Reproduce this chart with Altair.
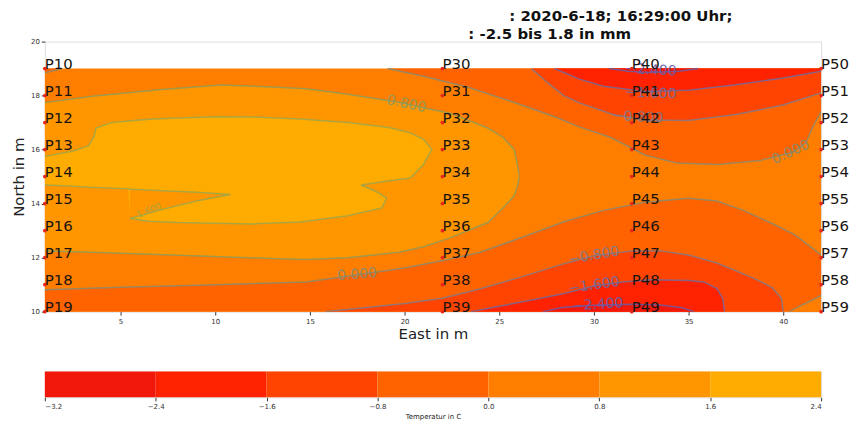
import altair as alt
import pandas as pd

# ---------------- values ----------------
TITLE_LINE1 = ": 2020-6-18; 16:29:00 Uhr;"
TITLE_LINE2 = ":  -2.5 bis 1.8 in mm"

SENSOR_GROUPS = ["1", "3", "4", "5"]
SENSOR_EAST = [1, 22, 32, 42]
SENSOR_NORTH = [19, 18, 17, 16, 15, 14, 13, 12, 11, 10]

LEVEL_EDGES = [-3.2, -2.4, -1.6, -0.8, 0.0, 0.8, 1.6, 2.4]
BAND_IDS = [0, 1, 2, 3, 4, 5, 6]
LINE_LEVELS = ["-2.4", "-1.6", "-0.8", "0.0", "0.8", "1.6"]

X_TICKS = [5, 10, 15, 20, 25, 30, 35, 40]
Y_TICKS = [10, 12, 14, 16, 18, 20]
X_DOMAIN = [1, 42]
Y_DOMAIN = [10, 20]

FIELD_EAST = [1, 42]
FIELD_NORTH = [10, 19]
FIELD_BASE_BAND = 4

# contours that meet the top edge (filled from the contour up to the top edge)
C00_TOP_X = [19.1, 21.0, 23.4, 26.0, 28.0, 29.2, 30.9, 32.7, 34.4, 36.5, 38.8, 40.5, 41.2, 41.6, 42.0]
C00_TOP_Y = [19.0, 18.72, 18.3, 17.7, 17.2, 16.85, 16.45, 15.8, 15.5, 15.45, 15.6, 15.9, 16.25, 16.9, 17.4]
C00_TL_X = [1.0, 1.5, 1.9]
C00_TL_Y = [18.85, 18.93, 19.0]
CM08_TOP_X = [26.7, 27.6, 28.4, 29.2, 31.0, 32.7, 35.0, 37.5, 40.0, 42.0]
CM08_TOP_Y = [19.0, 18.45, 18.0, 17.74, 17.3, 17.1, 17.08, 17.3, 17.65, 18.1]
CM16_TOP_X = [27.9, 28.6, 29.2, 30.5, 32.7, 35.0, 37.5, 40.0, 42.0]
CM16_TOP_Y = [19.0, 18.8, 18.62, 18.35, 18.15, 18.2, 18.4, 18.65, 18.9]
CM24_TOP_X = [30.8, 31.8, 33.0, 34.5, 35.5]
CM24_TOP_Y = [19.0, 18.9, 18.86, 18.9, 19.0]

# contours that meet the bottom edge (filled from the bottom edge up to the contour)
C00_BOT_X = [1, 5, 10, 14.8, 17.5, 20, 22.1, 24, 26, 28.5, 30.5, 32.7, 35, 36.5, 37.9, 39.3, 40.6, 42]
C00_BOT_Y = [10.81, 10.9, 11.0, 11.1, 11.37, 11.62, 11.9, 12.2, 12.7, 13.35, 13.75, 14.05, 14.2, 14.1, 13.75, 13.3, 12.85, 12.1]
C00_CORNER_X = [40.3, 41.0, 41.6, 42.0]
C00_CORNER_Y = [10.0, 10.25, 10.45, 10.6]
CM08_BOT_X = [15.8, 18, 20, 22, 24, 26, 28.3, 30, 32, 33.5, 35, 36.5, 38.4, 39.4, 39.9, 40.0]
CM08_BOT_Y = [10.0, 10.15, 10.3, 10.5, 10.85, 11.25, 11.75, 12.07, 12.25, 12.25, 12.1, 11.8, 11.25, 10.9, 10.5, 10.0]
CM16_BOT_X = [23.5, 25, 26.5, 28.3, 30, 31.5, 33, 35, 35.8, 36.5, 36.8, 36.9]
CM16_BOT_Y = [10.0, 10.2, 10.4, 10.65, 10.95, 11.1, 11.18, 11.15, 11.1, 10.85, 10.5, 10.0]
CM24_BOT_X = [27.3, 28.3, 30, 32, 33.5, 34.6, 35.3]
CM24_BOT_Y = [10.0, 10.15, 10.24, 10.27, 10.25, 10.15, 10.0]

# closed region inside the 0.8 contour
R5_X = [1, 3.5, 7, 10.3, 13, 14.8, 17, 19.7, 21, 22.4, 24.4, 25.2, 25.8, 26.0, 26.05]
R5_LO = [12.25, 12.2, 12.12, 12.03, 11.97, 11.93, 12.0, 12.2, 12.4, 12.73, 13.3, 13.84, 14.3, 14.75, 15.0]
R5_HI = [17.74, 17.98, 18.22, 18.39, 18.32, 18.25, 18.05, 17.75, 17.55, 17.35, 16.8, 16.45, 16.0, 15.3, 15.05]

# region inside the 1.6 contour
R6_X = [1, 2.5, 3.3, 3.6, 3.7, 4.5, 5.4, 5.5, 6.5, 8, 10, 12, 14.5, 17, 18.8, 19.05, 19.3, 20.3, 21.0, 21.45]
R6_LO = [14.69, 14.64, 14.61, 14.6, 14.6, 14.57, 14.55, 13.45, 13.35, 13.3, 13.27, 13.25, 13.32, 13.55, 13.84, 14.2, 14.75, 14.95, 15.45, 16.0]
R6_HI = [15.75, 15.95, 16.14, 16.5, 16.8, 17.0, 17.06, 17.07, 17.12, 17.17, 17.22, 17.21, 17.13, 17.0, 16.86, 16.83, 16.8, 16.62, 16.38, 16.0]

# 0.8..1.6 wedge cutting into the 1.6 region from the left
WEDGE_X = [5.5, 7, 9, 10.8]
WEDGE_LO = [13.45, 13.75, 14.1, 14.34]
WEDGE_HI = [14.53, 14.49, 14.42, 14.34]

# 0.8..1.6 notch cutting into the 1.6 region from the right
NOTCH_X = [17.7, 18.5, 19.05, 19.3, 20.3]
NOTCH_LO = [14.69, 14.45, 14.2, 14.75, 14.95]
NOTCH_HI = [14.69, 14.77, 14.84, 14.86, 14.95]

# contour labels
CLAB_TEXT = ["0.800", "\u22120.800", "\u22121.600", "\u22122.400", "0.000",
             "0.000", "\u22120.800", "\u22121.600", "\u22122.400"]
CLAB_X = [20.1, 32.3, 33.0, 33.0, 40.4, 17.5, 30.0, 30.0, 30.2]
CLAB_Y = [17.68, 17.2, 18.08, 18.94, 15.9, 11.37, 12.07, 10.97, 10.25]
CLAB_ANGLE = [12, 3, 2, 3, 335, 355, 350, 352, 356]
CLAB_LEVEL = ["0.8", "-0.8", "-1.6", "-2.4", "0.0", "0.0", "-0.8", "-1.6", "-2.4"]
SMALL_CLAB_TEXT = ["1.600"]
SMALL_CLAB_X = [6.5]
SMALL_CLAB_Y = [13.75]
SMALL_CLAB_ANGLE = [338]
SMALL_CLAB_LEVEL = ["1.6"]

# ---------------- styles ----------------
BAND_COLORS = ["#f2170b", "#ff2200", "#ff4300", "#ff6300", "#ff7e00", "#ff9600", "#ffab00"]
LINE_COLORS = ["#6b5ca5", "#76699a", "#857a86", "#8c8a6c", "#909a58", "#9ea64a"]
FONT = "DejaVu Sans"

band_scale = alt.Scale(domain=BAND_IDS, range=BAND_COLORS)
line_scale = alt.Scale(domain=LINE_LEVELS, range=LINE_COLORS)
x_scale = alt.Scale(domain=X_DOMAIN, nice=False, zero=False)
y_scale = alt.Scale(domain=Y_DOMAIN, nice=False, zero=False)

X_AXIS = alt.Axis(values=X_TICKS, title="East in m", labelFontSize=7, labelColor="#333",
                  tickSize=3.5, tickColor="#333", domain=False, grid=False, labelPadding=2,
                  titleFontSize=15, titleFontWeight="normal", titleColor="#222", titlePadding=2,
                  labelFont=FONT, titleFont=FONT)
Y_AXIS = alt.Axis(values=Y_TICKS, title="North in m", labelFontSize=7, labelColor="#333",
                  tickSize=3.5, tickColor="#333", domain=False, grid=False, labelPadding=2,
                  titleFontSize=15, titleFontWeight="normal", titleColor="#222", titlePadding=4,
                  labelFont=FONT, titleFont=FONT)


def X(field="x"):
    return alt.X(f"{field}:Q", scale=x_scale, axis=X_AXIS)


def Y(field="y"):
    return alt.Y(f"{field}:Q", scale=y_scale, axis=Y_AXIS)


COLOR = alt.Color("band:O", scale=band_scale, legend=None)

layers = []

# base field
base_df = pd.DataFrame({"x": [FIELD_EAST[0]], "x2": [FIELD_EAST[1]],
                        "y": [FIELD_NORTH[0]], "y2": [FIELD_NORTH[1]], "band": [FIELD_BASE_BAND]})
layers.append(alt.Chart(base_df).mark_rect().encode(x=X(), x2="x2:Q", y=Y(), y2="y2:Q", color=COLOR))


def edge_area(xs, ys, edge, band):
    df = pd.DataFrame({"x": xs, "y": ys, "y2": [edge] * len(xs), "band": [band] * len(xs)})
    return alt.Chart(df).mark_area(interpolate="linear", clip=True).encode(
        x=X(), y=Y(), y2="y2:Q", color=COLOR)


def band_area(xs, lo, hi, band):
    df = pd.DataFrame({"x": xs, "y": lo, "y2": hi, "band": [band] * len(xs)})
    return alt.Chart(df).mark_area(interpolate="linear", clip=True).encode(
        x=X(), y=Y(), y2="y2:Q", color=COLOR)


TOP, BOT = FIELD_NORTH[1], FIELD_NORTH[0]
layers += [
    edge_area(C00_TOP_X, C00_TOP_Y, TOP, 3),
    edge_area(C00_TL_X, C00_TL_Y, TOP, 3),
    edge_area(C00_BOT_X, C00_BOT_Y, BOT, 3),
    edge_area(C00_CORNER_X, C00_CORNER_Y, BOT, 4),
    edge_area(CM08_TOP_X, CM08_TOP_Y, TOP, 2),
    edge_area(CM08_BOT_X, CM08_BOT_Y, BOT, 2),
    edge_area(CM16_TOP_X, CM16_TOP_Y, TOP, 1),
    edge_area(CM16_BOT_X, CM16_BOT_Y, BOT, 1),
    edge_area(CM24_TOP_X, CM24_TOP_Y, TOP, 0),
    edge_area(CM24_BOT_X, CM24_BOT_Y, BOT, 0),
    band_area(R5_X, R5_LO, R5_HI, 5),
    band_area(R6_X, R6_LO, R6_HI, 6),
    band_area(WEDGE_X, WEDGE_LO, WEDGE_HI, 5),
    band_area(NOTCH_X, NOTCH_LO, NOTCH_HI, 5),
]

# contour lines built from the same boundaries
pieces = [
    ("c00_top", "0.0", C00_TOP_X, C00_TOP_Y),
    ("c00_tl", "0.0", C00_TL_X, C00_TL_Y),
    ("c00_bot", "0.0", C00_BOT_X, C00_BOT_Y),
    ("c00_corner", "0.0", C00_CORNER_X, C00_CORNER_Y),
    ("cm08_top", "-0.8", CM08_TOP_X, CM08_TOP_Y),
    ("cm08_bot", "-0.8", CM08_BOT_X, CM08_BOT_Y),
    ("cm16_top", "-1.6", CM16_TOP_X, CM16_TOP_Y),
    ("cm16_bot", "-1.6", CM16_BOT_X, CM16_BOT_Y),
    ("cm24_top", "-2.4", CM24_TOP_X, CM24_TOP_Y),
    ("cm24_bot", "-2.4", CM24_BOT_X, CM24_BOT_Y),
    ("c08_hi", "0.8", R5_X, R5_HI),
    ("c08_lo", "0.8", R5_X, R5_LO),
    ("c16_hi", "1.6", R6_X, R6_HI),
    ("c16_wedge_top", "1.6", R6_X[:7] + WEDGE_X, R6_LO[:7] + WEDGE_HI),
    ("c16_tongue_top", "1.6", WEDGE_X, WEDGE_LO),
    ("c16_lo", "1.6", R6_X[7:16], R6_LO[7:16]),
    ("c16_notch_lo", "1.6", NOTCH_X[:3], NOTCH_LO[:3]),
    ("c16_notch_hi", "1.6", NOTCH_X, NOTCH_HI),
    ("c16_lo_end", "1.6", R6_X[17:], R6_LO[17:]),
]
rows = []
for name, lev, xs, ys in pieces:
    for i, (xv, yv) in enumerate(zip(xs, ys)):
        rows.append({"piece": name, "level": lev, "seq": i, "x": xv, "y": yv})
lines_df = pd.DataFrame(rows)
layers.append(alt.Chart(lines_df).mark_line(strokeWidth=1.5, opacity=0.85, clip=True).encode(
    x=X(), y=Y(), detail="piece:N", order="seq:Q",
    stroke=alt.Stroke("level:N", scale=line_scale, legend=None)))

# contour labels
clab_df = pd.DataFrame({"x": CLAB_X, "y": CLAB_Y, "t": CLAB_TEXT, "a": CLAB_ANGLE, "level": CLAB_LEVEL})
layers.append(alt.Chart(clab_df).mark_text(font=FONT, fontSize=14, opacity=0.95).encode(
    x=X(), y=Y(), text="t:N", angle=alt.Angle("a:Q", scale=None),
    fill=alt.Fill("level:N", scale=line_scale, legend=None)))
sclab_df = pd.DataFrame({"x": SMALL_CLAB_X, "y": SMALL_CLAB_Y, "t": SMALL_CLAB_TEXT,
                         "a": SMALL_CLAB_ANGLE, "level": SMALL_CLAB_LEVEL})
layers.append(alt.Chart(sclab_df).mark_text(font=FONT, fontSize=9, opacity=0.9).encode(
    x=X(), y=Y(), text="t:N", angle=alt.Angle("a:Q", scale=None),
    fill=alt.Fill("level:N", scale=line_scale, legend=None)))

# sensors
srows = []
for g, ex in zip(SENSOR_GROUPS, SENSOR_EAST):
    for i, ny in enumerate(SENSOR_NORTH):
        srows.append({"name": f"P{g}{i}", "x": ex, "y": ny})
sens_df = pd.DataFrame(srows)
layers.append(alt.Chart(sens_df).mark_circle(size=14, color="#e8281a", opacity=1).encode(x=X(), y=Y()))
layers.append(alt.Chart(sens_df).mark_text(font=FONT, fontSize=15, align="left", baseline="alphabetic",
                                           color="#1a1410").encode(x=X(), y=Y(), text="name:N"))

main = alt.layer(*layers).properties(
    width=779, height=271,
    title=alt.TitleParams(TITLE_LINE2, anchor="start", frame="group", dx=425, fontSize=15,
                          font=FONT, fontWeight="bold", color="#111", offset=-16,
                          baseline="alphabetic"))

# colour bar
cb_df = pd.DataFrame({"lo": LEVEL_EDGES[:-1], "hi": LEVEL_EDGES[1:], "band": BAND_IDS})
cbar = alt.Chart(cb_df).mark_rect().encode(
    x=alt.X("lo:Q", scale=alt.Scale(domain=[LEVEL_EDGES[0], LEVEL_EDGES[-1]], nice=False, zero=False),
            axis=alt.Axis(values=LEVEL_EDGES, title="Temperatur in C",
                          labelExpr="replace(format(datum.value, '.1f'), '-', '\u2212')",
                          labelFontSize=7, labelColor="#333", tickSize=3.5, tickColor="#333",
                          domain=False, grid=False, labelPadding=2, titleFontSize=7,
                          titleFontWeight="normal", titleColor="#222", titlePadding=3,
                          labelFont=FONT, titleFont=FONT)),
    x2="hi:Q",
    color=COLOR,
).properties(width=779, height=26)

chart = alt.vconcat(main, cbar, spacing=29).properties(
    title=alt.TitleParams(TITLE_LINE1, anchor="start", frame="bounds", dx=500, fontSize=15,
                          font=FONT, fontWeight="bold", color="#111", offset=-10,
                          baseline="alphabetic"),
    padding={"left": 11, "top": 8, "right": 0, "bottom": 0},
    background="white",
).configure_view(stroke="#333", strokeWidth=1).configure(font=FONT)

chart.save("out.html", embed_options={"renderer": "svg", "actions": False})
